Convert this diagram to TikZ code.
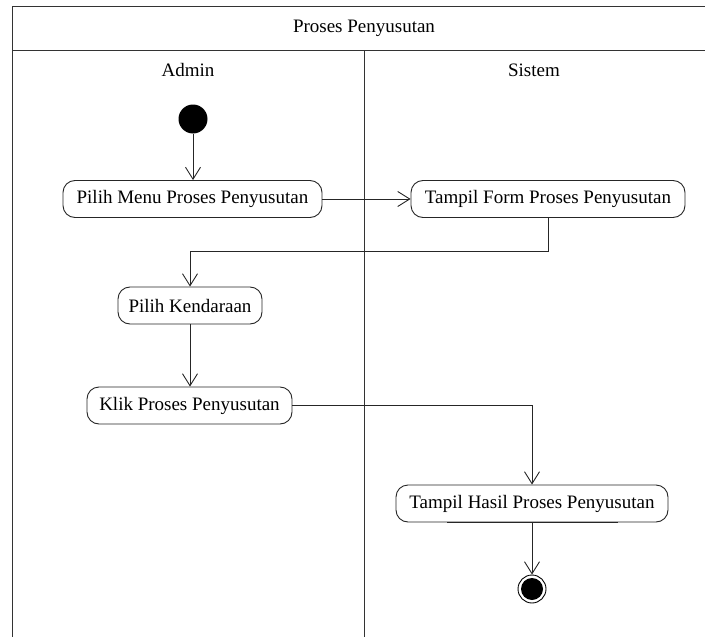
\documentclass[tikz,border=0pt]{standalone}
\usepackage{fontspec}
\setmainfont{Liberation Serif}
\usetikzlibrary{arrows.meta}
\begin{document}
\begin{tikzpicture}[x=1pt,y=-1pt,
  lane/.style={draw=black!80,line width=1pt},
  action/.style={draw=black!85,line width=0.9pt,rounded corners=12pt,
    minimum height=37pt,inner sep=0pt,font=\fontsize{19}{22}\selectfont},
  lbl/.style={font=\fontsize{19}{22}\selectfont},
  flow/.style={draw=black!85,line width=0.9pt,-{Straight Barb[length=12pt,width=15pt,line width=0.9pt]}}]
\useasboundingbox (0,0) rectangle (705,637);
% swimlane frame
\draw[lane] (705,6) -- (12.5,6) -- (12.5,637);
\draw[lane] (12.5,50) -- (705,50);
\draw[lane] (364,50) -- (364,637);
\node[lbl] (title) at (364,28) {Proses Penyusutan};
\node[lbl] (admin) at (188,70) {Admin};
\node[lbl] (sistem) at (534,70) {Sistem};
% start and end
\node[circle,fill=black,minimum size=29pt,inner sep=0pt] (start) at (193,119) {};
\node[circle,draw=black,line width=0.9pt,minimum size=28pt,inner sep=0pt] (end) at (532,589) {};
\node[circle,fill=black,minimum size=22pt,inner sep=0pt] (endin) at (532,589) {};
% actions
\node[action,minimum width=259pt] (menu) at (192.5,199) {Pilih Menu Proses Penyusutan};
\node[action,minimum width=274pt] (form) at (548,199) {Tampil Form Proses Penyusutan};
\node[action,minimum width=144pt] (kend) at (190,305.5) {Pilih Kendaraan};
\node[action,minimum width=205pt] (klik) at (189.5,405.5) {Klik Proses Penyusutan};
\node[action,minimum width=272pt] (hasil) at (532,503.5) {Tampil Hasil Proses Penyusutan};
\draw[black!85,line width=1.3pt] (447,522.6) -- (618,522.6);
% flows
\draw[flow] (start) -- (start |- menu.north);
\draw[flow] (menu.east) -- (form.west);
\draw[flow] (form.south -| 548,0) |- (190,251) -- (kend.north -| 190,0);
\draw[flow] (kend.south -| 190,0) -- (klik.north -| 190,0);
\draw[flow] (klik.east) -| (hasil.north);
\draw[flow] (hasil.south) -- (end.north);
\end{tikzpicture}
\end{document}
